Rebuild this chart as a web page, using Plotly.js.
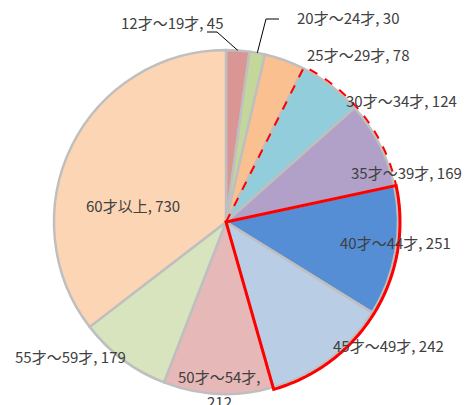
<!DOCTYPE html>
<html>
<head>
<meta charset="utf-8">
<script src="https://cdn.plot.ly/plotly-3.0.1.min.js"></script>
<style>html,body{margin:0;padding:0;background:#fff;}#chart{width:467px;height:405px;}</style>
</head>
<body>
<div id="chart"></div>
<script>
// ---- data ----
const categories = ['12才～19才','20才～24才','25才～29才','30才～34才','35才～39才','40才～44才','45才～49才','50才～54才','55才～59才','60才以上'];
const values = [45, 30, 78, 124, 169, 251, 242, 212, 179, 730];
const colors = ['#D99694','#C4D79B','#FAC090','#92CDDC','#B1A0C7','#558ED5','#B9CDE5','#E6B9B8','#D7E4BD','#FCD5B5'];

// ---- layout (pixels) ----
const W = 467, H = 405;
const CX = 226, CY = 222, R = 172;
// label centers (px) for each category
const labelPos = [[172,22],[348,18],[358,55],[401,100],[406,172],[395,242],[388,345],[219,376],[70,356],[133,205]];
// leader lines: [index, elbow px, end px]
const leaders = [[0,[217,32],[207,32]],[1,[266,19],[279,19]]];
// highlighted groups: [first index, last index, style]
const highlights = [
  {from:3, to:6, dash:'dash', width:2, r:R+2},
  {from:5, to:6, dash:'solid', width:3, r:R+2}
];

const total = values.reduce((a,b)=>a+b,0);
const cum = [0];
values.forEach(v=>cum.push(cum[cum.length-1]+v));
const ang = v => v/total*2*Math.PI;
const px = (a,r)=>[CX + r*Math.sin(a), CY - r*Math.cos(a)];
const toPaper = p => [p[0]/W, 1 - p[1]/H];

function wedgePath(a0,a1,r){
  let pts = [[CX,CY]];
  const n = 60;
  for(let i=0;i<=n;i++){ pts.push(px(a0+(a1-a0)*i/n, r)); }
  pts.push([CX,CY]);
  return pts.map((p,i)=>{const q=toPaper(p);return (i?'L':'M')+q[0].toFixed(5)+','+q[1].toFixed(5);}).join(' ')+' Z';
}

const shapes = [];
highlights.forEach(h=>{
  shapes.push({type:'path', xref:'paper', yref:'paper', layer:'above',
    path: wedgePath(ang(cum[h.from]), ang(cum[h.to+1]), h.r),
    line:{color:'#FF0000', width:h.width, dash:h.dash}, fillcolor:'rgba(0,0,0,0)'});
});
leaders.forEach(l=>{
  const i=l[0];
  const mid = ang((cum[i]+cum[i+1])/2);
  const p0 = toPaper(px(mid,R)), p1 = toPaper(l[1]), p2 = toPaper(l[2]);
  shapes.push({type:'path', xref:'paper', yref:'paper', layer:'above',
    path:`M${p0[0]},${p0[1]} L${p1[0]},${p1[1]} L${p2[0]},${p2[1]}`,
    line:{color:'#000000', width:1}});
});

const font = {family:'"Noto Sans CJK JP", "Noto Sans", sans-serif', size:15, color:'#404040'};
const annotations = [];
categories.forEach((c,i)=>{
  const p = toPaper(labelPos[i]);
  if(i===7){
    annotations.push({xref:'paper',yref:'paper',x:p[0],y:p[1],text:c+',',showarrow:false,font:font,xanchor:'center',yanchor:'middle'});
    const p2 = toPaper([labelPos[i][0], labelPos[i][1]+25]);
    annotations.push({xref:'paper',yref:'paper',x:p2[0],y:p2[1],text:String(values[i]),showarrow:false,font:font,xanchor:'center',yanchor:'middle'});
  } else {
    annotations.push({xref:'paper',yref:'paper',x:p[0],y:p[1],text:c+', '+values[i],showarrow:false,font:font,xanchor:'center',yanchor:'middle'});
  }
});

const trace = {
  type:'pie', labels:categories, values:values, sort:false, direction:'clockwise', rotation:0,
  marker:{colors:colors, line:{color:'#BFBFBF', width:2.5}},
  textinfo:'none', hoverinfo:'label+value', showlegend:false,
  domain:{x:[(CX-R)/W,(CX+R)/W], y:[(H-CY-R)/H,(H-CY+R)/H]}
};

Plotly.newPlot('chart',[trace],{
  width:W, height:H, margin:{l:0,r:0,t:0,b:0},
  paper_bgcolor:'#FFFFFF', showlegend:false,
  shapes:shapes, annotations:annotations
},{staticPlot:true, displayModeBar:false});
</script>
</body>
</html>
